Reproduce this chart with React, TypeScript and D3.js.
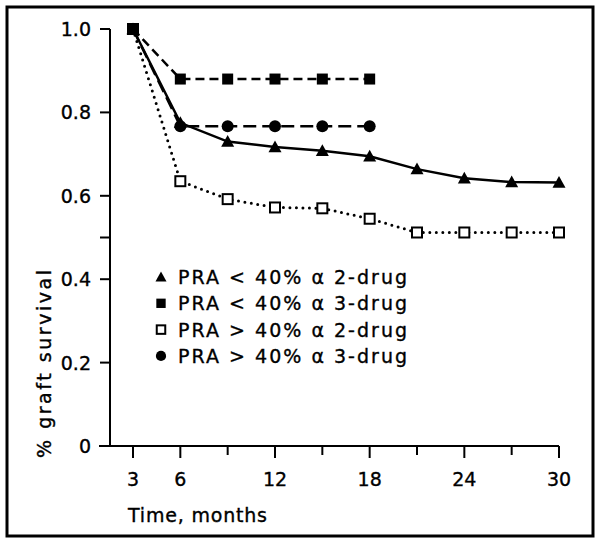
import React from "react";
import * as d3 from "d3";

const monthsLong = [3, 6, 9, 12, 15, 18, 21, 24, 27, 30];
const monthsShort = [3, 6, 9, 12, 15, 18];
const triValues = [1.0, 0.775, 0.73, 0.717, 0.708, 0.695, 0.664, 0.642, 0.633, 0.632];
const sqFilledValues = [1.0, 0.88, 0.88, 0.88, 0.88, 0.88];
const sqOpenValues = [1.0, 0.635, 0.592, 0.572, 0.57, 0.545, 0.512, 0.512, 0.512, 0.512];
const circleValues = [1.0, 0.767, 0.767, 0.767, 0.767, 0.767];

const xMajorTicks = [3, 6, 12, 18, 24, 30];
const xMinorTicks = [9, 15, 21, 27];
const yTicks = [0, 0.2, 0.4, 0.5, 0.6, 0.8, 1.0];
const yLabels: Record<string, string> = { "0": "0", "0.2": "0.2", "0.4": "0.4", "0.5": "", "0.6": "0.6", "0.8": "0.8", "1": "1.0" };

const legendLabels = [
  "PRA < 40% \u03b1 2-drug",
  "PRA < 40% \u03b1 3-drug",
  "PRA > 40% \u03b1 2-drug",
  "PRA > 40% \u03b1 3-drug",
];
const legendMarkers = ["triangle", "squareFilled", "squareOpen", "circle"];

const FONT = "'DejaVu Sans', sans-serif";

function Marker({ kind, x, y, size = 1 }: { kind: string; x: number; y: number; size?: number }) {
  if (kind === "triangle") {
    const s = 6.5 * size;
    return <path d={`M${x},${y - s}L${x + s},${y + s * 0.8}L${x - s},${y + s * 0.8}Z`} fill="#000" />;
  }
  if (kind === "squareFilled") {
    const s = 5.5 * size;
    return <rect x={x - s} y={y - s} width={2 * s} height={2 * s} fill="#000" />;
  }
  if (kind === "squareOpen") {
    const s = 5 * size;
    return <rect x={x - s} y={y - s} width={2 * s} height={2 * s} fill="#fff" stroke="#000" strokeWidth={2} />;
  }
  return <circle cx={x} cy={y} r={6 * size} fill="#000" />;
}

export default function App() {
  const x = d3.scaleLinear().domain([3, 30]).range([133, 559]);
  const y = d3.scaleLinear().domain([0, 1]).range([446, 29]);
  const line = d3
    .line<[number, number]>()
    .x((d) => x(d[0]))
    .y((d) => y(d[1]));

  const tri = monthsLong.map((m, i) => [m, triValues[i]] as [number, number]);
  const sqF = monthsShort.map((m, i) => [m, sqFilledValues[i]] as [number, number]);
  const sqO = monthsLong.map((m, i) => [m, sqOpenValues[i]] as [number, number]);
  const cir = monthsShort.map((m, i) => [m, circleValues[i]] as [number, number]);

  const textStyle = { stroke: "#000", strokeWidth: 0.35 };

  return (
    <svg width={600} height={544} style={{ position: "absolute", left: 0, top: 0, background: "#fff" }} fontFamily={FONT}>
      <rect x={0} y={0} width={600} height={544} fill="#fff" />
      <rect x={7} y={7} width={586} height={529} fill="none" stroke="#000" strokeWidth={3} />

      {/* axes */}
      <line x1={110} x2={110} y1={y(1)} y2={y(0)} stroke="#000" strokeWidth={2} />
      <line x1={99} x2={x(30)} y1={y(0)} y2={y(0)} stroke="#000" strokeWidth={2} />
      {yTicks.map((t) => (
        <g key={t}>
          <line x1={100} x2={110} y1={y(t)} y2={y(t)} stroke="#000" strokeWidth={2} />
          <text x={91} y={y(t)} textAnchor="end" dominantBaseline="central" fontSize={19} style={textStyle}>
            {yLabels[String(t)]}
          </text>
        </g>
      ))}
      {xMajorTicks.map((t) => (
        <g key={t}>
          <line x1={x(t)} x2={x(t)} y1={y(0)} y2={y(0) + 12} stroke="#000" strokeWidth={2} />
          <text x={x(t)} y={479} textAnchor="middle" dominantBaseline="central" fontSize={19} style={textStyle}>
            {t}
          </text>
        </g>
      ))}
      {xMinorTicks.map((t) => (
        <line key={t} x1={x(t)} x2={x(t)} y1={y(0)} y2={y(0) + 9} stroke="#000" strokeWidth={2} />
      ))}
      <text x={128} y={515} dominantBaseline="central" fontSize={19} textLength={139} lengthAdjust="spacing" style={textStyle}>
        Time, months
      </text>
      <text
        transform="translate(44,364) rotate(-90)"
        textAnchor="middle"
        dominantBaseline="central"
        fontSize={19}
        textLength={188}
        lengthAdjust="spacing"
        style={textStyle}
      >
        % graft survival
      </text>

      {/* lines */}
      <path d={line(sqO) ?? ""} fill="none" stroke="#000" strokeWidth={3} strokeDasharray="0,6.5" strokeLinecap="round" />
      <path d={line(cir) ?? ""} fill="none" stroke="#000" strokeWidth={2.5} strokeDasharray="13,6" />
      <path d={line(sqF) ?? ""} fill="none" stroke="#000" strokeWidth={2.5} strokeDasharray="9,5" />
      <path d={line(tri) ?? ""} fill="none" stroke="#000" strokeWidth={2.5} />

      {/* markers */}
      {sqO.map((d, i) => (
        <Marker key={"o" + i} kind="squareOpen" x={x(d[0])} y={y(d[1])} />
      ))}
      {cir.map((d, i) => (
        <Marker key={"c" + i} kind="circle" x={x(d[0])} y={y(d[1])} />
      ))}
      {sqF.map((d, i) => (
        <Marker key={"s" + i} kind="squareFilled" x={x(d[0])} y={y(d[1])} />
      ))}
      {tri.map((d, i) => (
        <Marker key={"t" + i} kind="triangle" x={x(d[0])} y={y(d[1])} />
      ))}

      {/* legend */}
      {legendLabels.map((lab, i) => {
        const ly = 277 + i * 26.3;
        return (
          <g key={lab}>
            <Marker kind={legendMarkers[i]} x={161} y={ly} size={0.85} />
            <text x={178} y={ly} dominantBaseline="central" fontSize={19} textLength={229} lengthAdjust="spacing" style={{ whiteSpace: "pre", ...textStyle }}>
              {lab}
            </text>
          </g>
        );
      })}
    </svg>
  );
}
